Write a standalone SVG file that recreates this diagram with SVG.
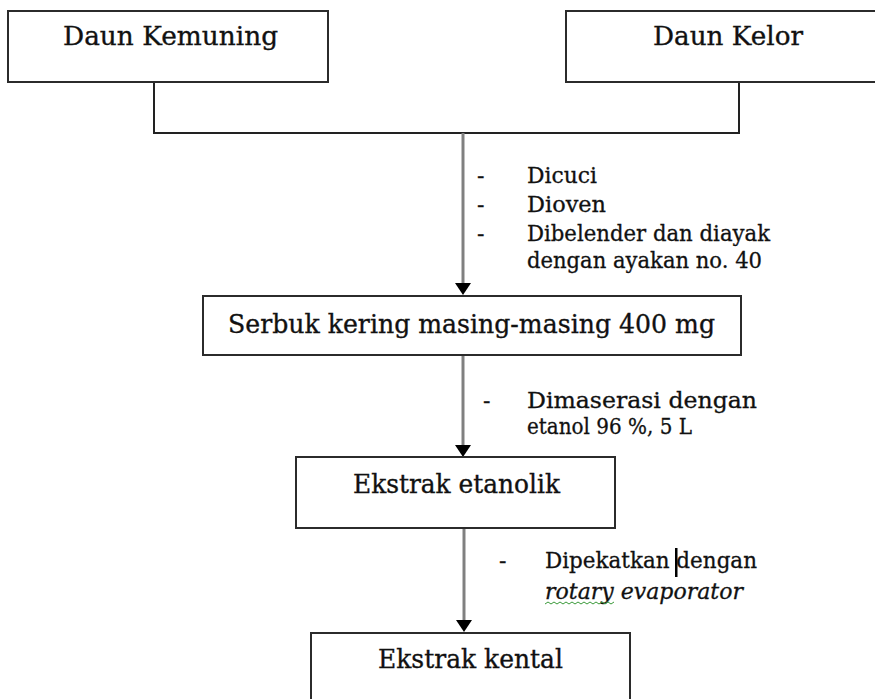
<svg xmlns="http://www.w3.org/2000/svg" width="875" height="699" viewBox="0 0 875 699">
<style>
.box{fill:#fff;stroke:#2b2b2b;stroke-width:2}
.bt{font-family:"DejaVu Serif","Liberation Serif",serif;font-size:26px;fill:#111;stroke:#111;stroke-width:0.35}
.lt{font-family:"DejaVu Serif","Liberation Serif",serif;font-size:22px;fill:#111;stroke:#111;stroke-width:0.3}
.join{fill:none;stroke:#222;stroke-width:2}
.arr{fill:none;stroke:#808080;stroke-width:3}
.head{fill:#000}
</style>
<rect width="875" height="699" fill="#fff"/>
<g id="connectors">
<polyline class="join" points="154,82 154,133 739,133 739,82"/>
<line class="arr" x1="463" y1="133" x2="463" y2="284"/>
<polygon class="head" points="455,283 471,283 463,295"/>
<line class="arr" x1="463" y1="355" x2="463" y2="446"/>
<polygon class="head" points="455,445 471,445 463,457"/>
<line class="arr" x1="464" y1="528" x2="464" y2="621"/>
<polygon class="head" points="456,620 472,620 464,632"/>
</g>
<g id="node-kemuning">
<rect class="box" x="8" y="11" width="320" height="71"/>
<text class="bt" x="63" y="45" textLength="215" lengthAdjust="spacingAndGlyphs">Daun Kemuning</text>
</g>
<g id="node-kelor">
<rect class="box" x="566" y="11" width="320" height="71"/>
<text class="bt" x="653" y="45" textLength="150" lengthAdjust="spacingAndGlyphs">Daun Kelor</text>
</g>
<g id="label-1">
<text class="lt" x="477" y="183">-</text>
<text class="lt" x="477" y="212">-</text>
<text class="lt" x="477" y="241">-</text>
<text class="lt" x="527" y="183" textLength="70" lengthAdjust="spacingAndGlyphs">Dicuci</text>
<text class="lt" x="527" y="212" textLength="79" lengthAdjust="spacingAndGlyphs">Dioven</text>
<text class="lt" x="527" y="241" textLength="243" lengthAdjust="spacingAndGlyphs">Dibelender dan diayak</text>
<text class="lt" x="527" y="268" textLength="235" lengthAdjust="spacingAndGlyphs">dengan ayakan no. 40</text>
</g>
<g id="node-serbuk">
<rect class="box" x="203" y="296" width="538" height="59"/>
<text class="bt" x="228" y="333" textLength="487" lengthAdjust="spacingAndGlyphs">Serbuk kering masing-masing 400 mg</text>
</g>
<g id="label-2">
<text class="lt" x="483" y="408">-</text>
<text class="lt" x="527" y="408" textLength="230" lengthAdjust="spacingAndGlyphs">Dimaserasi dengan</text>
<text class="lt" x="527" y="434" textLength="165" lengthAdjust="spacingAndGlyphs">etanol 96 %, 5 L</text>
</g>
<g id="node-etanolik">
<rect class="box" x="296" y="457" width="319" height="71"/>
<text class="bt" x="353" y="493" textLength="207" lengthAdjust="spacingAndGlyphs">Ekstrak etanolik</text>
</g>
<g id="label-3">
<text class="lt" x="499" y="568">-</text>
<text class="lt" x="545" y="568" textLength="212" lengthAdjust="spacingAndGlyphs">Dipekatkan dengan</text>
<text class="lt" x="545" y="599" font-style="italic" textLength="198" lengthAdjust="spacingAndGlyphs">rotary evaporator</text>
<rect x="675" y="548" width="2.5" height="29" fill="#000"/>
<polyline points="545,604 548,602 551,604 554,602 557,604 560,602 563,604 566,602 569,604 572,602 575,604 578,602 581,604 584,602 587,604 590,602 593,604 596,602 599,604 602,602 605,604 608,602 611,604 614,602" fill="none" stroke="#3a9a3a" stroke-width="1"/>
</g>
<g id="node-kental">
<rect class="box" x="311" y="633" width="319" height="80"/>
<text class="bt" x="378" y="668" textLength="185" lengthAdjust="spacingAndGlyphs">Ekstrak kental</text>
</g>
</svg>
